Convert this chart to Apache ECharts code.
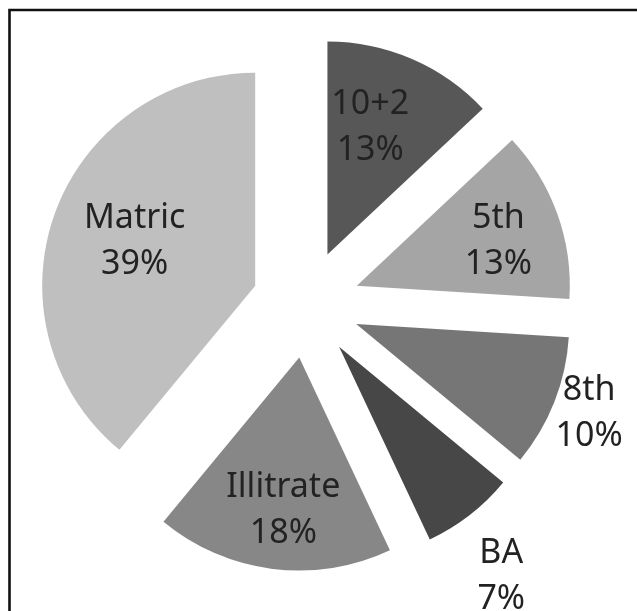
<!DOCTYPE html>
<html>
<head>
<meta charset="utf-8">
<script src="https://cdn.jsdelivr.net/npm/echarts@6/dist/echarts.min.js"></script>
<style>html,body{margin:0;padding:0;background:#fff}#c{width:637px;height:611px}</style>
</head>
<body>
<div id="c"></div>
<script>
const categories = ['10+2', '5th', '8th', 'BA', 'Illitrate', 'Matric'];
const values = [13, 13, 10, 7, 18, 39];
const percentLabels = ['13%', '13%', '10%', '7%', '18%', '39%'];
const sliceColors = ['#575757', '#a5a5a5', '#767676', '#474747', '#878787', '#bfbfbf'];
const outsideLabels = ['8th', 'BA'];
// label nudges (style only): [dx, dy] in px
const labelNudge = {'10+2': [-14, 4], '5th': [7, 4], '8th': [-7, -6], 'BA': [4, 26], 'Illitrate': [2, 11], 'Matric': [14, 4]};

const chart = echarts.init(document.getElementById('c'), null, {renderer: 'canvas'});
const CENTER = [306, 304];
const R = 213;
const OFFSET = 54;
const labelFont = {fontFamily: 'Noto Sans', fontSize: 34, lineHeight: 46, color: '#222'};

function mkData(kind) {
  return categories.map((name, i) => {
    const isOut = outsideLabels.includes(name);
    let show = false;
    if (kind === 'in') show = !isOut;
    if (kind === 'out') show = isOut;
    return {
      name: name,
      value: values[i],
      selected: true,
      itemStyle: kind === 'main' ? {color: sliceColors[i]} : {color: 'rgba(0,0,0,0)'},
      label: {show: show}
    };
  });
}
const fmt = p => p.name + '\n' + percentLabels[p.dataIndex];
const nudge = p => {
  const n = labelNudge[categories[p.dataIndex]] || [0, 0];
  return {dx: n[0], dy: n[1], hideOverlap: false};
};
const base = {
  type: 'pie', center: CENTER, startAngle: 90, clockwise: true,
  selectedMode: 'multiple', selectedOffset: OFFSET, avoidLabelOverlap: false,
  labelLine: {show: false}, emphasis: {disabled: true}, animation: false
};
chart.setOption({
  backgroundColor: '#fff',
  animation: false,
  graphic: [{type: 'rect', shape: {x: 9.5, y: 10, width: 700, height: 700},
    style: {fill: 'none', stroke: '#111', lineWidth: 2.6}, silent: true}],
  series: [
    Object.assign({}, base, {name: 'main', radius: [0, R], data: mkData('main'),
      label: {show: false}, z: 2}),
    Object.assign({}, base, {name: 'inLabels', radius: [70, 210], data: mkData('in'), silent: true, z: 3,
      labelLayout: nudge,
      label: Object.assign({position: 'inside', formatter: fmt}, labelFont)}),
    Object.assign({}, base, {name: 'outLabels', radius: [215, 295], data: mkData('out'), silent: true, z: 3,
      labelLayout: nudge,
      label: Object.assign({position: 'inside', formatter: fmt}, labelFont)})
  ]
});
</script>
</body>
</html>
